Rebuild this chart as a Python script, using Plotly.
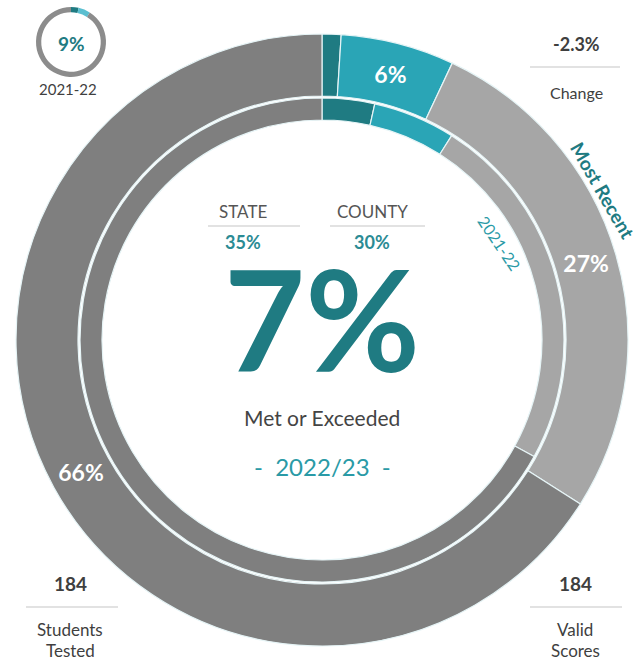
import plotly.graph_objects as go

# ---- data ----
segments = ["Exceeded", "Met", "Nearly Met", "Not Met"]
recent_values = [1, 6, 27, 66]            # 2022/23
prior_values = [3.5, 5.5, 24, 67]         # 2021-22
recent_labels = ["", "6%", "27%", "66%"]
mini_values = [3.5, 5.5, 91]              # 2021-22 mini ring
headline = "7%"
prior_total = "9%"
change = "-2.3%"
state_pct = "35%"
county_pct = "30%"
students_tested = "184"
valid_scores = "184"
year_label = "2022/23"
prior_year = "2021-22"

W, H = 644, 660
DARK_TEAL = "#1f7b82"
TEAL = "#2aa5b6"
LIGHT_GRAY = "#a6a6a6"
DARK_GRAY = "#7f7f7f"
TXT = "#3f3f3f"
seg_colors = [DARK_TEAL, TEAL, LIGHT_GRAY, DARK_GRAY]


def fx(px):
    return px / W


def fy(py):
    return 1 - py / H


def dom(cx, cy, r):
    return dict(x=[fx(cx - r), fx(cx + r)], y=[fy(cy + r), fy(cy - r)])


CX, CY = 322, 340
fig = go.Figure()

# outer ring (most recent)
fig.add_trace(go.Pie(
    labels=segments, values=recent_values, sort=False, direction="clockwise",
    rotation=0, hole=244 / 306, domain=dom(CX, CY, 306),
    marker=dict(colors=seg_colors, line=dict(color="#e6f4f6", width=1.2)),
    text=recent_labels, textinfo="text", textposition="inside",
    insidetextorientation="horizontal",
    textfont=dict(family="Lato", size=23, color="white", weight="bold"),
    showlegend=False, hoverinfo="label+value",
))

# inner ring (2021-22)
fig.add_trace(go.Pie(
    labels=segments, values=prior_values, sort=False, direction="clockwise",
    rotation=0, hole=220 / 242, domain=dom(CX, CY, 242),
    marker=dict(colors=seg_colors, line=dict(color="#e6f4f6", width=1.2)),
    textinfo="none", showlegend=False, hoverinfo="label+value",
))

# mini ring top-left
fig.add_trace(go.Pie(
    labels=["Exceeded", "Met", "Other"], values=mini_values, sort=False,
    direction="clockwise", rotation=0, hole=0.85, domain=dom(71, 42, 35),
    marker=dict(colors=[DARK_TEAL, "#5bbfd0", "#8c8c8c"], line=dict(width=0)),
    textinfo="none", showlegend=False, hoverinfo="label+value",
))

ann = []


def add(text, x, y, size, color=TXT, bold=False, angle=0, family="Lato"):
    ann.append(dict(
        text=text, x=fx(x), y=fy(y), xref="paper", yref="paper",
        showarrow=False, textangle=angle, xanchor="center", yanchor="middle",
        font=dict(family=family, size=size, color=color,
                  weight="bold" if bold else "normal"),
    ))


add(prior_total, 71, 44, 19, DARK_TEAL, True)
add(prior_year, 68, 89, 15, TXT)
add(change, 576, 44, 18, TXT, True)
add("Change", 576, 92, 16, TXT)
add("Most Recent", 602, 190, 19, DARK_TEAL, True, 60)
add(prior_year, 500, 243, 16, "#2a9aa6", False, 56)
add("STATE", 243, 211, 17, "#555555")
add(state_pct, 243, 242, 18, "#2b8b94", True)
add("COUNTY", 372, 211, 17, "#555555")
add(county_pct, 372, 242, 18, "#2b8b94", True)
add(headline, 322, 318, 140, DARK_TEAL, True)
add("Met or Exceeded", 322, 417, 21, "#444444")
add("-  " + year_label + "  -", 322, 467, 24, "#2a9aa6")
add(students_tested, 70, 583, 19, TXT, True)
add("Students", 70, 629, 17, TXT)
add("Tested", 70, 650, 17, TXT)
add(valid_scores, 575, 583, 19, TXT, True)
add("Valid", 575, 629, 17, TXT)
add("Scores", 575, 650, 17, TXT)

shapes = []
for x0, x1, y in [(530, 620, 67), (208, 300, 226), (330, 425, 226),
                  (26, 118, 607), (530, 622, 607)]:
    shapes.append(dict(type="line", xref="paper", yref="paper",
                       x0=fx(x0), x1=fx(x1), y0=fy(y), y1=fy(y),
                       line=dict(color="#d9d9d9", width=1.5)))

fig.update_layout(
    width=W, height=H, margin=dict(l=0, r=0, t=0, b=0),
    paper_bgcolor="white", plot_bgcolor="white",
    annotations=ann, shapes=shapes, showlegend=False,
)

fig.write_html("out.html",
               config={"displayModeBar": False},
               post_script="document.body.style.margin='0';"
                           "document.body.style.overflow='hidden';")
